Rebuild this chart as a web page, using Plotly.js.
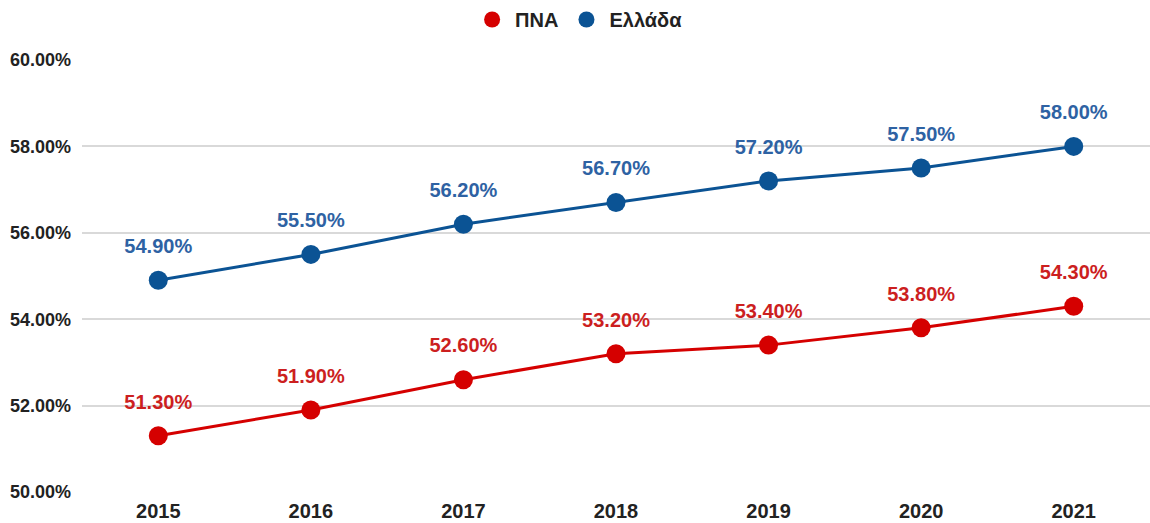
<!DOCTYPE html>
<html>
<head>
<meta charset="utf-8">
<script src="https://cdn.plot.ly/plotly-3.0.1.min.js"></script>
<style>html,body{margin:0;padding:0;background:#fff;}#chart{width:1150px;height:523px;}</style>
</head>
<body>
<div id="chart"></div>
<script>
const years = ['2015','2016','2017','2018','2019','2020','2021'];
const pnaValues = [51.3, 51.9, 52.6, 53.2, 53.4, 53.8, 54.3];
const greeceValues = [54.9, 55.5, 56.2, 56.7, 57.2, 57.5, 58.0];
const seriesNames = ['ΠΝΑ', 'Ελλάδα'];
const yTicks = [50, 52, 54, 56, 58, 60];

const red = '#d50000';
const blue = '#0b5394';
const redText = '#cc1f1f';
const blueText = '#2e62a3';
const FONT = 'Liberation Sans, Arial, sans-serif';

function lineTrace(vals, color) {
  return {
    x: years, y: vals, type: 'scatter', mode: 'lines+markers',
    line: {color: color, width: 3},
    marker: {color: color, size: 19},
    showlegend: false, hoverinfo: 'skip'
  };
}
function labelTrace(vals, color) {
  return {
    x: years, y: vals, type: 'scatter', mode: 'markers+text',
    text: vals.map(v => v.toFixed(2) + '%'),
    textposition: 'top center',
    textfont: {family: FONT, size: 20, color: color, weight: 'bold'},
    marker: {color: 'rgba(0,0,0,0)', size: 34},
    showlegend: false, hoverinfo: 'skip', cliponaxis: false
  };
}
function legendTrace(name, color) {
  return {
    x: [null], y: [null], type: 'scatter', mode: 'markers', name: name,
    marker: {color: color, size: 18}
  };
}
const data = [
  lineTrace(greeceValues, blue),
  lineTrace(pnaValues, red),
  labelTrace(greeceValues, blueText),
  labelTrace(pnaValues, redText),
  legendTrace(seriesNames[0], red),
  legendTrace(seriesNames[1], blue)
];

const layout = {
  width: 1150, height: 523,
  margin: {l: 82, r: 0, t: 60, b: 31},
  paper_bgcolor: '#fff', plot_bgcolor: '#fff',
  font: {family: FONT, color: '#222'},
  showlegend: true,
  legend: {
    orientation: 'h', x: 0.465, xanchor: 'center', y: 1.095, yanchor: 'middle',
    font: {family: FONT, size: 20, color: '#222', weight: 'bold'},
    itemwidth: 36
  },
  xaxis: {
    type: 'category', showgrid: false, zeroline: false, showline: false,
    ticks: '', tickfont: {size: 20, weight: 'bold', color: '#222'},
    ticklabelstandoff: 5,
    range: [-0.5, 6.5], fixedrange: true
  },
  yaxis: {
    range: [50, 60], tickvals: yTicks,
    ticktext: yTicks.map(t => t.toFixed(2) + '%'),
    showgrid: true, gridcolor: '#d9d9d9', gridwidth: 2,
    zeroline: false, showline: false, ticks: '',
    tickfont: {size: 18, weight: 'bold', color: '#222'},
    ticklabelstandoff: 10, fixedrange: true
  }
};

Plotly.newPlot('chart', data, layout, {displayModeBar: false, staticPlot: true});
</script>
</body>
</html>
